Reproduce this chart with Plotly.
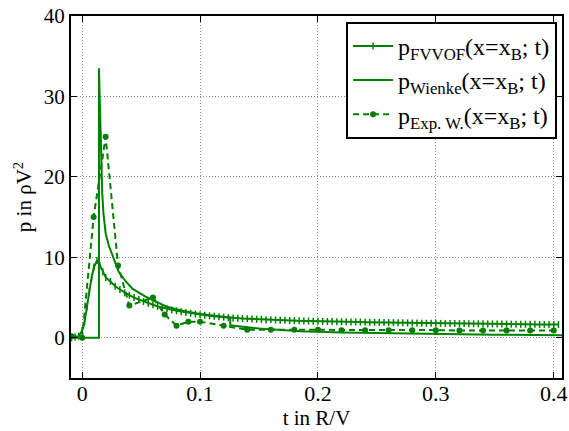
import plotly.graph_objects as go

GREEN = "rgb(0,128,0)"

# --- FVVOF simulation (dense samples) ---
fv_t_early = [-0.009, -0.006, -0.003, 0.0, 0.002, 0.004, 0.006, 0.008, 0.010, 0.0125,
              0.015, 0.0175, 0.020]
fv_v_early = [0.0, 0.1, 0.2, 0.9, 2.0, 3.8, 5.8, 7.5, 8.8, 9.6,
              9.0, 8.2, 7.5]
fv_t_start = 0.024
fv_t_step = 0.004
fv_v_late = [7.0, 6.4, 6.0, 5.6, 5.3, 5.0, 4.75, 4.5, 4.3, 4.1,
             3.9, 3.75, 3.6, 3.45, 3.35, 3.25, 3.15, 3.05, 2.95, 2.87,
             2.8, 2.73, 2.67, 2.61, 2.56, 2.51, 2.47, 2.43, 2.40, 2.37,
             2.34, 2.31, 2.28, 2.25, 2.23, 2.21, 2.19, 2.17, 2.15, 2.13,
             2.11, 2.09, 2.08, 2.06, 2.05, 2.04, 2.03, 2.02, 2.0, 1.99,
             1.98, 1.97, 1.96, 1.95, 1.94, 1.93, 1.92, 1.91, 1.9, 1.89,
             1.88, 1.87, 1.86, 1.85, 1.84, 1.83, 1.82, 1.81, 1.8, 1.8,
             1.79, 1.78, 1.78, 1.77, 1.76, 1.76, 1.75, 1.74, 1.74, 1.73,
             1.72, 1.72, 1.71, 1.70, 1.70, 1.69, 1.69, 1.68, 1.68, 1.67,
             1.67, 1.66, 1.66, 1.65, 1.65, 1.65]
fv_t = fv_t_early + [round(fv_t_start + fv_t_step * i, 4) for i in range(len(fv_v_late))]
fv_v = fv_v_early + fv_v_late

# --- Wienke analytical ---
wi_t = [-0.0095, 0.0142, 0.0142, 0.015, 0.016, 0.017, 0.018, 0.0199, 0.0225, 0.0256,
        0.031, 0.037, 0.0426, 0.054, 0.071, 0.085, 0.1, 0.1256, 0.1256, 0.15,
        0.185, 0.22, 0.26, 0.3, 0.35, 0.407]
wi_v = [0.0, 0.0, 33.5, 28.0, 22.0, 18.0, 15.5, 13.0, 11.5, 10.3,
        8.2, 7.0, 6.1, 5.1, 3.9, 3.35, 2.95, 2.5, 1.55, 1.15,
        0.8, 0.65, 0.55, 0.47, 0.38, 0.3]

# --- Experiment (Wienke) ---
ex_t = [-0.009, 0.0, 0.0097, 0.0199, 0.0304, 0.04, 0.06, 0.07, 0.08, 0.09,
        0.1, 0.12, 0.14, 0.16, 0.18, 0.2, 0.22, 0.24, 0.26, 0.28,
        0.3, 0.32, 0.34, 0.36, 0.38, 0.4]
ex_v = [0.2, 0.0, 15.0, 25.0, 9.0, 4.0, 5.0, 2.9, 1.5, 2.0,
        2.0, 1.5, 1.0, 1.0, 1.0, 1.0, 0.95, 0.95, 0.95, 0.95,
        0.95, 0.9, 0.9, 0.9, 0.9, 0.9]

x_ticks = [0, 0.1, 0.2, 0.3, 0.4]
x_labels = ["0", "0.1", "0.2", "0.3", "0.4"]
y_ticks = [0, 10, 20, 30, 40]


def sub(s):
    return "<sub>" + s + "</sub>"


fig = go.Figure()
fig.add_trace(go.Scatter(
    x=fv_t, y=fv_v, mode="lines+markers",
    name="p" + sub("FVVOF") + "(x=x" + sub("B") + "; t)",
    line=dict(color=GREEN, width=2),
    marker=dict(symbol="line-ns", size=5, line=dict(color=GREEN, width=1.5), color=GREEN),
))
fig.add_trace(go.Scatter(
    x=wi_t, y=wi_v, mode="lines",
    name="p" + sub("Wienke") + "(x=x" + sub("B") + "; t)",
    line=dict(color=GREEN, width=2),
))
fig.add_trace(go.Scatter(
    x=ex_t, y=ex_v, mode="lines+markers",
    name="p" + sub("Exp. W.") + "(x=x" + sub("B") + "; t)",
    line=dict(color=GREEN, width=2, dash="6px,4px"),
    marker=dict(symbol="circle", size=6, color=GREEN),
))

font_family = "Liberation Serif, Times New Roman, serif"
fig.update_layout(
    width=569, height=431,
    margin=dict(l=71, r=7, t=16, b=53, autoexpand=False),
    paper_bgcolor="white", plot_bgcolor="white",
    font=dict(family=font_family, size=22, color="black"),
    showlegend=True,
    legend=dict(
        x=0.99, y=0.984, xanchor="right", yanchor="top",
        bgcolor="white", bordercolor="black", borderwidth=2,
        font=dict(family=font_family, size=24),
        tracegroupgap=0, itemwidth=40,
    ),
)
fig.update_xaxes(
    range=[-0.0095, 0.407], tickvals=x_ticks, ticktext=x_labels,
    showline=True, linecolor="black", linewidth=2, mirror="ticks",
    ticks="inside", ticklen=6, tickcolor="black", tickwidth=1,
    showgrid=True, gridcolor="rgb(140,140,140)", griddash="1px,2px", gridwidth=1,
    zeroline=False, automargin=False, ticklabelstandoff=-5,
    title=dict(text="t in R/V", standoff=5, font=dict(size=21)),
    tickfont=dict(size=22),
)
fig.update_yaxes(
    range=[-5, 40], tickvals=y_ticks,
    showline=True, linecolor="black", linewidth=2, mirror="ticks",
    ticks="inside", ticklen=6, tickcolor="black", tickwidth=1,
    showgrid=True, gridcolor="rgb(140,140,140)", griddash="1px,2px", gridwidth=1,
    zeroline=False, automargin=False,
    title=dict(text="p in ρV<sup>2</sup>", standoff=6, font=dict(size=21)),
    tickfont=dict(size=21),
)

fig.write_html("out.html", config={"displayModeBar": False},
               post_script="document.body.style.margin='0';")
